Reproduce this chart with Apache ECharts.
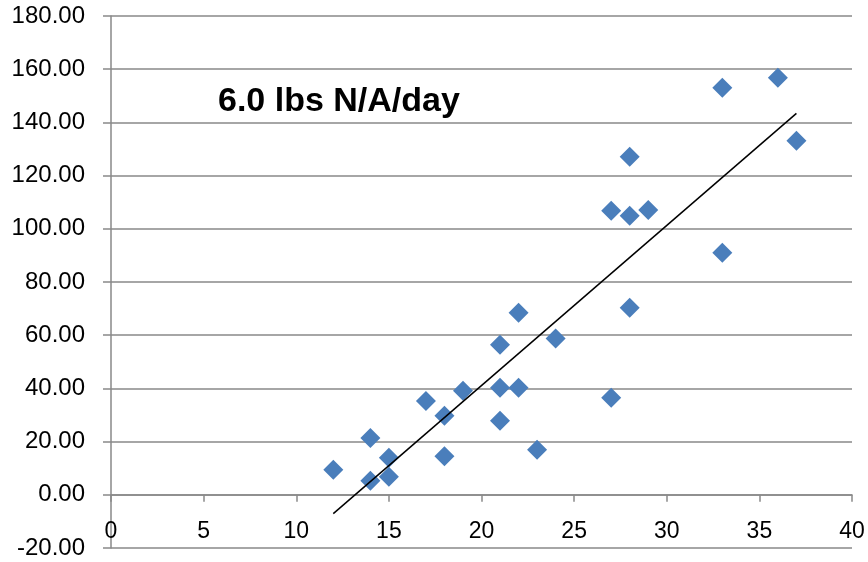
<!DOCTYPE html>
<html>
<head>
<meta charset="utf-8">
<script src="https://cdn.jsdelivr.net/npm/echarts@6/dist/echarts.min.js"></script>
<style>
  html, body { margin: 0; padding: 0; background: #fff; }
  #chart { width: 868px; height: 562px; }
</style>
</head>
<body>
<div id="chart"></div>
<script>
// Days (x) against pounds of N per acre (y)
const days = [12, 14, 14, 15, 15, 17, 18, 18, 19, 21, 21, 21, 22, 22, 23, 24, 27, 27, 28, 28, 28, 29, 33, 33, 36, 37];
const lbsN = [9.4, 21.4, 5.3, 13.9, 6.8, 35.3, 29.7, 14.5, 39.1, 56.4, 40.2, 27.8, 68.4, 40.2, 16.9, 58.8, 106.8, 36.5, 127.1, 104.9, 70.3, 107.1, 153.0, 91.0, 156.8, 133.1];

// Linear trend endpoints (slope about 6.0 lbs N/A per day)
const trendDays = [12, 37];
const trendLbs = [-7.1, 143.4];

const rateLabel = '6.0 lbs N/A/day';

const xTicks = { min: 0, max: 40, interval: 5 };
const yTicks = { min: -20, max: 180, interval: 20 };

const gridTop = 16, gridBottom = 14;
const plotHeight = 562 - gridTop - gridBottom;
// The x axis sits on y = 0, which is 20 units above the bottom edge
const zeroOffset = -plotHeight * (0 - yTicks.min) / (yTicks.max - yTicks.min);

const axisGray = '#898989';
const fontFamily = 'Liberation Sans';

const chart = echarts.init(document.getElementById('chart'), null, { renderer: 'canvas' });
chart.setOption({
  animation: false,
  backgroundColor: '#fff',
  grid: { left: 111, right: 16, top: gridTop, bottom: gridBottom, containLabel: false, outerBoundsMode: 'none' },
  title: {
    text: rateLabel,
    left: 213,
    top: 80,
    textStyle: { fontFamily, fontWeight: 'bold', fontSize: 34, color: '#000' }
  },
  xAxis: {
    type: 'value',
    position: 'bottom',
    offset: zeroOffset,
    min: xTicks.min, max: xTicks.max, interval: xTicks.interval,
    axisLine: { show: true, onZero: false, lineStyle: { color: axisGray, width: 1.5 } },
    axisTick: { show: true, inside: false, length: 7, lineStyle: { color: axisGray, width: 1.5 } },
    axisLabel: { fontFamily, fontSize: 23, color: '#000', margin: 25, showMinLabel: true, showMaxLabel: true },
    splitLine: { show: false }
  },
  yAxis: {
    type: 'value',
    min: yTicks.min, max: yTicks.max, interval: yTicks.interval,
    axisLine: { show: true, onZero: false, lineStyle: { color: axisGray, width: 1.5 } },
    axisTick: { show: true, length: 8, lineStyle: { color: axisGray, width: 1.5 } },
    axisLabel: { fontFamily, fontSize: 24, color: '#000', margin: 26, formatter: v => v.toFixed(2) },
    splitLine: { show: true, lineStyle: { color: axisGray, width: 1.5 } }
  },
  series: [
    {
      type: 'scatter',
      data: days.map((d, i) => [d, lbsN[i]]),
      symbol: 'diamond',
      symbolSize: 20,
      itemStyle: { color: '#4A7EBB', opacity: 1 },
      z: 3
    },
    {
      type: 'line',
      data: trendDays.map((d, i) => [d, trendLbs[i]]),
      symbol: 'none',
      lineStyle: { color: '#000', width: 1.5 },
      z: 4
    }
  ]
});
</script>
</body>
</html>
